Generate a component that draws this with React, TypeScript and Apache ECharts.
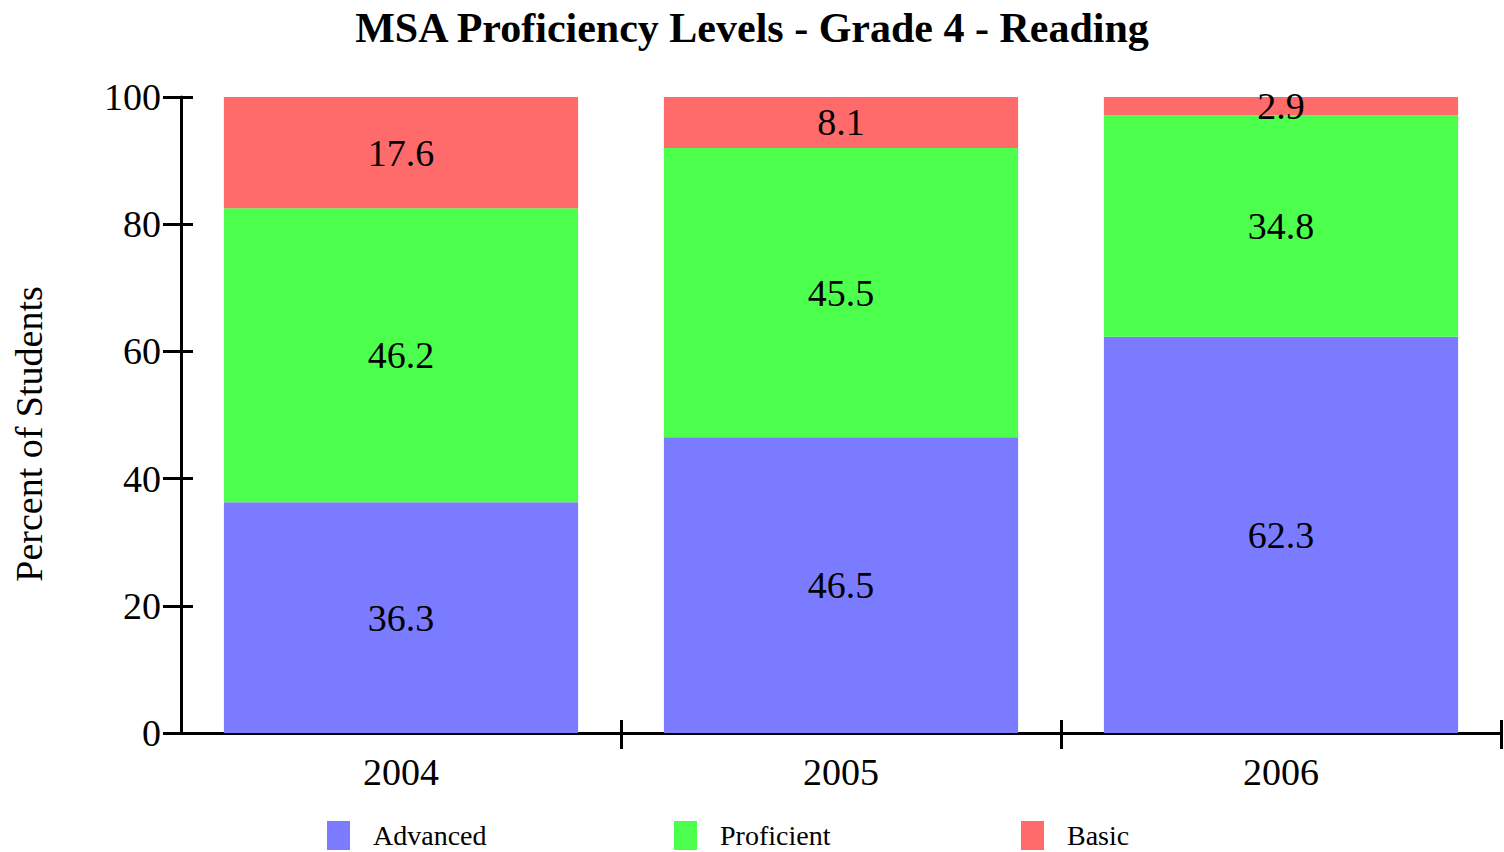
import React, { useEffect, useRef } from "react";
import * as echarts from "echarts";

const years = ["2004", "2005", "2006"];
const advanced = [36.3, 46.5, 62.3];
const proficient = [46.2, 45.5, 34.8];
const basic = [17.6, 8.1, 2.9];
const yTicks = { min: 0, max: 100, interval: 20 };

const FONT = "'Liberation Serif', 'Times New Roman', serif";
const colors = { Advanced: "#7b7bff", Proficient: "#4dff4d", Basic: "#ff6b6b" };

export default function App() {
  const ref = useRef<HTMLDivElement>(null);
  useEffect(() => {
    if (!ref.current) return;
    const chart = echarts.init(ref.current, null, { renderer: "svg" });
    const labelStyle = {
      show: true,
      position: "inside",
      color: "#000",
      fontFamily: FONT,
      fontSize: 38,
    };
    const mk = (name: string, data: number[]) => ({
      name,
      type: "bar",
      stack: "total",
      barWidth: "80.5%",
      data,
      itemStyle: { color: (colors as any)[name] },
      label: labelStyle,
      emphasis: { disabled: true },
    });
    const legendBase = {
      top: 821,
      padding: 0,
      itemWidth: 23,
      itemHeight: 29,
      icon: "rect",
      itemGap: 0,
      textStyle: { fontFamily: FONT, fontSize: 28, color: "#000", padding: [4, 0, 0, 18] },
      selectedMode: false,
    };
    chart.setOption({
      animation: false,
      backgroundColor: "#fff",
      title: {
        text: "MSA Proficiency Levels - Grade 4 - Reading",
        left: "center",
        top: 2,
        textStyle: { fontFamily: FONT, fontSize: 42, fontWeight: "bold", color: "#000" },
      },
      legend: [
        { ...legendBase, left: 327, data: ["Advanced"] },
        { ...legendBase, left: 674, data: ["Proficient"] },
        { ...legendBase, left: 1021, data: ["Basic"] },
      ],
      grid: { left: 181, right: 3, top: 97, bottom: 119, containLabel: false },
      xAxis: [
        {
          type: "category",
          data: years,
          axisLine: { show: true, lineStyle: { color: "#000", width: 3 } },
          axisTick: {
            show: true,
            length: 16,
            interval: (index: number) => index !== 0,
            lineStyle: { color: "#000", width: 3 },
          },
          axisLabel: { color: "#000", fontFamily: FONT, fontSize: 38, margin: 20 },
          splitLine: { show: false },
        },
        {
          type: "category",
          data: years,
          position: "bottom",
          axisLine: { show: false },
          axisTick: { show: true, inside: true, length: 13, lineStyle: { color: "#000", width: 3 } },
          axisLabel: { show: false },
          splitLine: { show: false },
        },
      ],
      yAxis: [
        {
          type: "value",
          ...yTicks,
          name: "Percent of Students",
          nameLocation: "middle",
          nameRotate: 90,
          nameGap: 133,
          nameTextStyle: { fontFamily: FONT, fontSize: 38, color: "#000", padding: [0, 38, 0, 0] },
          axisLine: { show: true, lineStyle: { color: "#000", width: 3 } },
          axisTick: { show: true, length: 18, lineStyle: { color: "#000", width: 3 } },
          axisLabel: { color: "#000", fontFamily: FONT, fontSize: 38, margin: 20 },
          splitLine: { show: false },
        },
        {
          type: "value",
          ...yTicks,
          position: "left",
          axisLine: { show: false },
          axisTick: { show: true, inside: true, length: 12, lineStyle: { color: "#000", width: 3 } },
          axisLabel: { show: false },
          splitLine: { show: false },
        },
      ],
      series: [mk("Advanced", advanced), mk("Proficient", proficient), mk("Basic", basic)],
    });
    return () => chart.dispose();
  }, []);
  return (
    <div
      ref={ref}
      style={{ position: "absolute", left: 0, top: 0, width: 1504, height: 852 }}
    />
  );
}
